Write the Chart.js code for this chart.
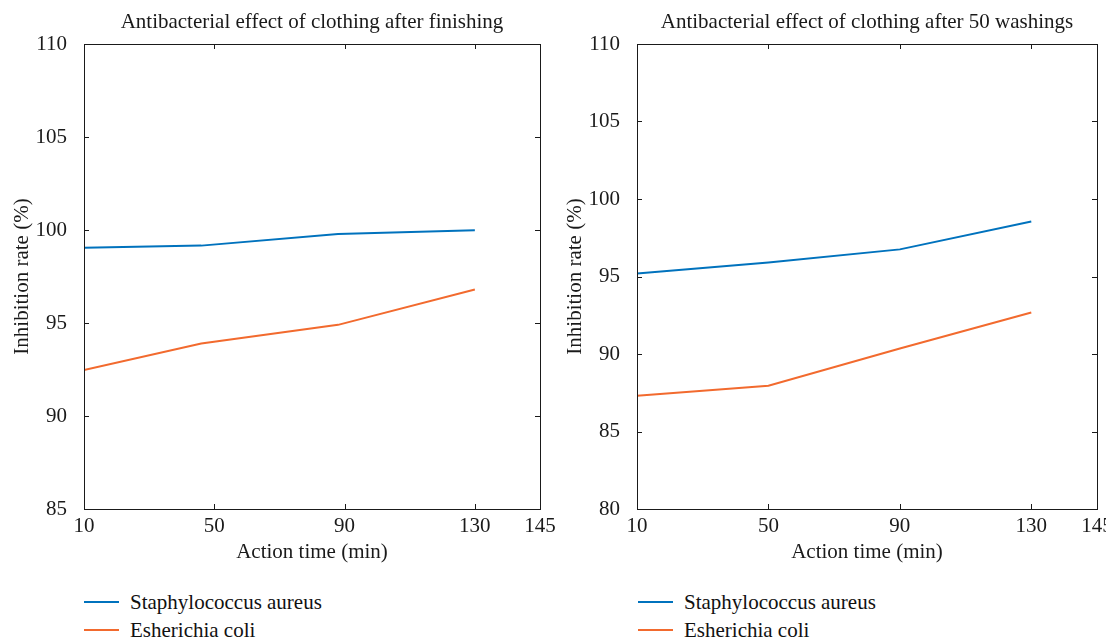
<!DOCTYPE html>
<html>
<head>
<meta charset="utf-8">
<script src="https://cdn.jsdelivr.net/npm/chart.js@4/dist/chart.umd.min.js"></script>
<style>
  body { margin: 0; background: #fff; width: 1106px; height: 639px; overflow: hidden; position: relative; }
  canvas { position: absolute; top: 0; }
  .legend { position: absolute; font-family: 'Liberation Serif', 'DejaVu Serif', serif; font-size: 21px; color: #111; }
  .legend .item { position: absolute; white-space: nowrap; height: 28px; line-height: 28px; }
  .legend .swatch { position: absolute; top: 13px; width: 35px; height: 2px; }
  .legend .label { position: absolute; left: 46px; top: 0; }
</style>
</head>
<body>
<canvas id="finish-chart" width="575" height="575" style="left:0"></canvas>
<canvas id="wash-chart" width="553" height="575" style="left:553px"></canvas>
<div class="legend" id="finish-legend" style="left:84px; top:588px"></div>
<div class="legend" id="wash-legend" style="left:638px; top:588px"></div>
<script>
// x axis: evenly spaced ticks, the last one (145) sits half a step past 130
const xTickValues = [10, 50, 90, 130, 150];
const xTickLabels = ['10', '50', '90', '130', '145'];

const seriesNames = ['Staphylococcus aureus', 'Esherichia coli'];
const seriesColors = ['#0072BD', '#F26A2E'];

// after finishing
const finishTimes = [10, 46, 88, 130];
const finishStaph = [99.05, 99.16, 99.78, 99.98];
const finishEcoli = [92.47, 93.9, 94.9, 96.8];

// after 50 washings
const washTimes = [10, 50, 90, 130];
const washStaph = [95.2, 95.9, 96.75, 98.55];
const washEcoli = [87.3, 87.95, 90.35, 92.68];

const FONT = "'Liberation Serif', 'DejaVu Serif', serif";
const INK = '#1a1a1a';
const FS = 21;

// box frame with inward tick marks on all four sides
const frameTicks = {
  id: 'frameTicks',
  afterDatasetsDraw(chart) {
    const { ctx, chartArea: a, scales: { x, y } } = chart;
    const len = 5;
    ctx.save();
    ctx.strokeStyle = INK;
    ctx.lineWidth = 1;
    ctx.strokeRect(Math.round(a.left) + 0.5, Math.round(a.top) + 0.5, Math.round(a.width), Math.round(a.height));
    ctx.beginPath();
    x.ticks.forEach(t => {
      const px = Math.round(x.getPixelForValue(t.value)) + 0.5;
      ctx.moveTo(px, a.bottom); ctx.lineTo(px, a.bottom - len);
      ctx.moveTo(px, a.top); ctx.lineTo(px, a.top + len);
    });
    y.ticks.forEach(t => {
      const py = Math.round(y.getPixelForValue(t.value)) + 0.5;
      ctx.moveTo(a.left, py); ctx.lineTo(a.left + len, py);
      ctx.moveTo(a.right, py); ctx.lineTo(a.right - len, py);
    });
    ctx.stroke();
    ctx.restore();
  }
};

function toPoints(xs, ys) {
  return xs.map((v, i) => ({ x: v, y: ys[i] }));
}

function makeChart(canvasId, title, times, staph, ecoli, yMin, yMax, padRight) {
  const canvas = document.getElementById(canvasId);
  return new Chart(canvas, {
    type: 'line',
    data: {
      datasets: [
        { label: seriesNames[0], data: toPoints(times, staph), borderColor: seriesColors[0], borderWidth: 2, pointRadius: 0, tension: 0, fill: false },
        { label: seriesNames[1], data: toPoints(times, ecoli), borderColor: seriesColors[1], borderWidth: 2, pointRadius: 0, tension: 0, fill: false }
      ]
    },
    options: {
      responsive: false,
      animation: false,
      layout: { padding: { left: 0, right: padRight, top: 0, bottom: 0 } },
      plugins: {
        legend: { display: false },
        tooltip: { enabled: false },
        title: {
          display: true,
          text: title,
          fullSize: false,
          color: INK,
          font: { family: FONT, size: FS, weight: 'normal', lineHeight: 1.2 },
          padding: { top: 9.4, bottom: 9.4 }
        }
      },
      scales: {
        x: {
          type: 'linear',
          min: xTickValues[0],
          max: xTickValues[xTickValues.length - 1],
          afterBuildTicks: s => { s.ticks = xTickValues.map(v => ({ value: v })); },
          afterFit: s => { s.height = 66; s.paddingLeft = 0; s.paddingRight = 0; },
          grid: { display: false },
          border: { display: false },
          ticks: {
            color: INK,
            padding: -3,
            maxRotation: 0,
            font: { family: FONT, size: FS },
            callback: (v, i) => xTickLabels[i]
          },
          title: {
            display: true,
            text: 'Action time (min)',
            color: INK,
            font: { family: FONT, size: FS, lineHeight: 1.2 },
            padding: { top: 0, bottom: 10.4 }
          }
        },
        y: {
          min: yMin,
          max: yMax,
          afterFit: s => { s.width = 84; },
          grid: { display: false },
          border: { display: false },
          ticks: {
            stepSize: 5,
            color: INK,
            padding: 9,
            font: { family: FONT, size: FS }
          },
          title: {
            display: true,
            text: 'Inhibition rate (%)',
            color: INK,
            font: { family: FONT, size: FS, lineHeight: 1.2 },
            padding: { top: 9.4, bottom: 0 }
          }
        }
      }
    },
    plugins: [frameTicks]
  });
}

function buildLegend(id) {
  const box = document.getElementById(id);
  box.innerHTML = seriesNames.map((name, i) => `
    <div class="item" style="top:${i * 28}px">
      <div class="swatch" style="background:${seriesColors[i]}"></div>
      <div class="label">${name}</div>
    </div>`).join('');
}

makeChart('finish-chart', 'Antibacterial effect of clothing after finishing', finishTimes, finishStaph, finishEcoli, 85, 110, 35);
makeChart('wash-chart', 'Antibacterial effect of clothing after 50 washings', washTimes, washStaph, washEcoli, 80, 110, 9);
buildLegend('finish-legend');
buildLegend('wash-legend');
</script>
</body>
</html>
